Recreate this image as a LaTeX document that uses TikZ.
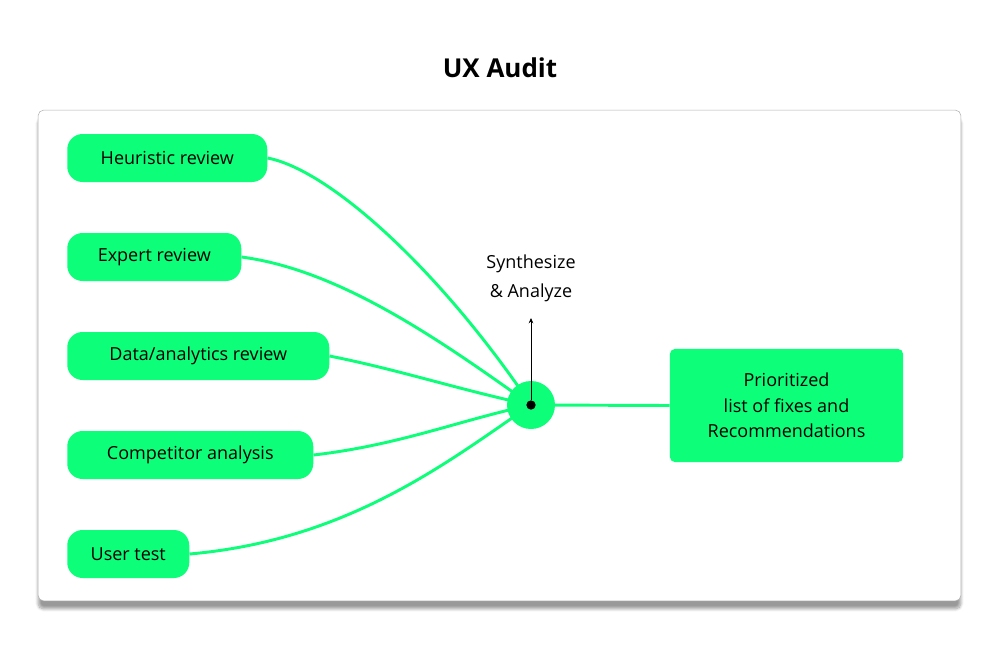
\documentclass[tikz,border=0pt]{standalone}
\usepackage{fontspec}
\setmainfont{Open Sans}
\usetikzlibrary{shadows.blur,arrows.meta}
\definecolor{gr}{HTML}{0DFF7A}
\begin{document}
\begin{tikzpicture}[x=0.75pt,y=-0.75pt,
 pill/.style={fill=gr,rounded corners=11.5pt,minimum height=36pt,inner sep=0pt,font=\fontsize{13.5}{16}\selectfont,anchor=west},
 conn/.style={draw=gr,line width=2.2pt}]
\useasboundingbox (0,0) rectangle (1000,650);
\node[font=\fontsize{19.5}{22}\selectfont\bfseries] (t) at (500,68) {UX Audit};
\node[draw=black!30,fill=white,rounded corners=4pt,minimum width=692pt,minimum height=368pt,inner sep=0pt,blur shadow={shadow blur steps=10,shadow xshift=0pt,shadow yshift=-6pt,opacity=15}] (frame) at (499.5,355.5) {};
\node[pill,minimum width=150pt] (h) at (67,158) {Heuristic review};
\node[pill,minimum width=130.5pt] (e) at (67,257) {Expert review};
\node[pill,minimum width=196.5pt] (d) at (67,356) {Data/analytics review};
\node[pill,minimum width=184.5pt] (c) at (67,455) {Competitor analysis};
\node[pill,minimum width=91.5pt] (u) at (67,554) {User test};
\node[fill=gr,rounded corners=4pt,minimum width=175pt,minimum height=85pt,align=center,font=\fontsize{13.5}{19}\selectfont] (r) at (786.5,405.5) {Prioritized\\list of fixes and\\Recommendations};
\coordinate (hc) at (531,405);
\draw[conn] (h.east) .. controls (330,170) and (440,270) .. (hc);
\draw[conn] (e.east) .. controls (340,270) and (440,340) .. (hc);
\draw[conn] (d.east) .. controls (400,370) and (460,390) .. (hc);
\draw[conn] (c.east) .. controls (400,445) and (460,420) .. (hc);
\draw[conn] (u.east) .. controls (350,540) and (450,460) .. (hc);
\draw[conn] (hc) -- (r.west);
\node[circle,fill=gr,minimum size=36pt,inner sep=0pt] (hub) at (hc) {};
\node[circle,fill=black,minimum size=7pt,inner sep=0pt] (dot) at (hc) {};
\node[align=center,font=\fontsize{13.5}{22}\selectfont] (s) at (531,278) {Synthesize\\\& Analyze};
\coordinate (ae) at (531,318);
\draw[-{Stealth[length=4pt,width=3.5pt]},line width=0.6pt] (dot) -- (ae);
\end{tikzpicture}
\end{document}
